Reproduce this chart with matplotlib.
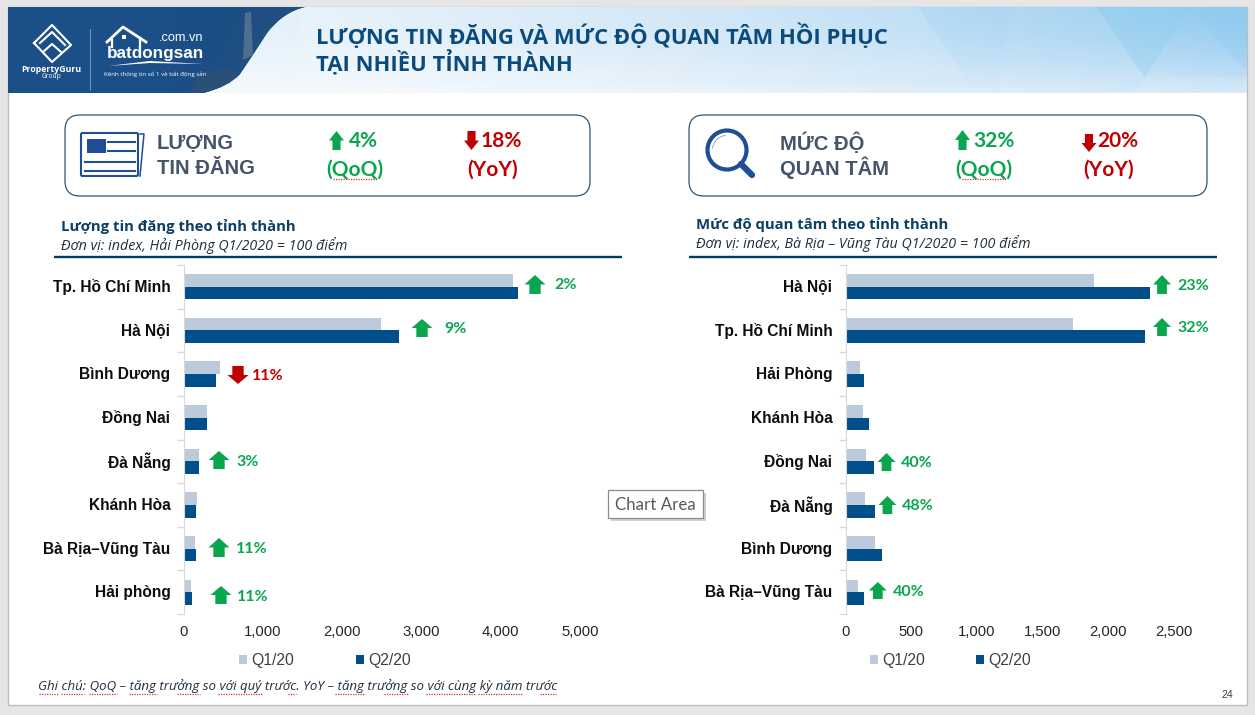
import numpy as np
import matplotlib
matplotlib.use("Agg")
import matplotlib.pyplot as plt
from matplotlib.patches import FancyBboxPatch, Polygon, PathPatch, Circle, Rectangle, Wedge
from matplotlib.path import Path
from matplotlib.colors import LinearSegmentedColormap
from matplotlib.transforms import ScaledTranslation

# ---------- data ----------
series_names = ["Q1/20", "Q2/20"]
left_categories = ["Tp. Hồ Chí Minh", "Hà Nội", "Bình Dương", "Đồng Nai", "Đà Nẵng", "Khánh Hòa", "Bà Rịa–Vũng Tàu", "Hải phòng"]
left_q1 = [4155, 2490, 460, 295, 195, 170, 145, 90]
left_q2 = [4215, 2715, 410, 295, 195, 155, 155, 105]
left_ticks = [0, 1000, 2000, 3000, 4000, 5000]

right_categories = ["Hà Nội", "Tp. Hồ Chí Minh", "Hải Phòng", "Khánh Hòa", "Đồng Nai", "Đà Nẵng", "Bình Dương", "Bà Rịa–Vũng Tàu"]
right_q1 = [1895, 1732, 108, 134, 156, 146, 223, 95]
right_q2 = [2320, 2283, 140, 178, 216, 223, 277, 140]
right_ticks = [0, 500, 1000, 1500, 2000, 2500]

title_lines = ["LƯỢNG TIN ĐĂNG VÀ MỨC ĐỘ QUAN TÂM HỒI PHỤC", "TẠI NHIỀU TỈNH THÀNH"]
note_text = "Ghi chú: QoQ – tăng trưởng so với quý trước. YoY – tăng trưởng so với cùng kỳ năm trước"

# callouts: (text, up?, arrow centre x, arrow top, arrow bottom, text left, text y)
left_callouts = [("2%", True, 535, 275, 294, 554.5, 285), ("9%", True, 422, 319, 337, 444, 329),
                 ("11%", False, 238, 366, 384, 252, 376), ("3%", True, 219, 451, 469, 236, 462),
                 ("11%", True, 219, 538, 557, 235.5, 549), ("11%", True, 221, 586, 604, 237, 597)]
right_callouts = [("23%", True, 1162, 275, 294, 1177, 286), ("32%", True, 1162, 318, 336, 1177, 328),
                  ("40%", True, 886.5, 453, 471, 900.8, 463), ("48%", True, 887.4, 496, 514, 901.6, 506),
                  ("40%", True, 877.8, 582, 599, 892.4, 592)]

GREEN, RED = "#0aa64f", "#c00000"
C_Q1, C_Q2 = "#bccbdb", "#004f8a"
NAVY = "#0b4a7d"
LABEL_FONT = ["Liberation Sans", "DejaVu Sans"]
HEAD_FONT = ["Open Sans", "DejaVu Sans"]
CAL_FONT = ["Lato", "DejaVu Sans"]

W, H = 1255, 715
fig = plt.figure(figsize=(W / 100, H / 100), dpi=100, facecolor="#e6e6e6")

# pixel overlay underneath the charts
bg = fig.add_axes([0, 0, 1, 1], zorder=0)
bg.set_xlim(0, W); bg.set_ylim(H, 0); bg.axis("off")
bg.add_patch(Rectangle((8, 7), 1239, 698, fc="white", ec="#bdbdbd", lw=1, zorder=0))

# header gradient
nx, ny = 320, 40
xx, yy = np.meshgrid(np.linspace(0, 1, nx), np.linspace(0, 1, ny))
tx = np.clip((xx - 0.2) / 0.8, 0, 1) ** 1.5
strength = (0.22 + 0.78 * tx) * (1 - 0.62 * yy ** 1.6)
cmap = LinearSegmentedColormap.from_list("hdr", ["#ffffff", "#d6e9f8", "#b4daf4", "#92cbef"])
bg.imshow(strength, extent=(8, 1247, 93, 7), cmap=cmap, vmin=0, vmax=1, aspect="auto", zorder=1, interpolation="bilinear")
for pts, c, a in [([(300, 7), (918, 7), (965, 77), (300, 77)], "white", .14),
                  ([(1097, 7), (1190, 7), (1145, 78)], "#8ccaf0", .28),
                  ([(1190, 7), (1247, 7), (1247, 70), (1228, 52)], "#8ccaf0", .25),
                  ([(1145, 78), (1247, 78), (1247, 93), (1135, 93)], "white", .10),
                  ([(1010, 7), (1097, 7), (1145, 78), (1060, 93), (1000, 93)], "white", .06)]:
    bg.add_patch(Polygon(pts, closed=True, fc=c, ec="none", alpha=a, zorder=2))

# dark left part of the header, clipped by a curve
verts = [(8, 7), (305, 7), (283, 12), (267, 33), (253, 55), (240, 74), (228, 87), (203, 93), (8, 93), (8, 7)]
codes = [Path.MOVETO, Path.LINETO, Path.CURVE3, Path.CURVE3, Path.CURVE3, Path.CURVE3, Path.CURVE3, Path.CURVE3, Path.LINETO, Path.CLOSEPOLY]
dark = PathPatch(Path(verts, codes), fc="#1c4f86", ec="none", zorder=3)
bg.add_patch(dark)
xd, yd = np.meshgrid(np.linspace(0, 1, 100), np.linspace(0, 1, 30))
dcmap = LinearSegmentedColormap.from_list("d", ["#1b4f88", "#1d4e84", "#24517f", "#3a5f84"])
im = bg.imshow(np.clip((xd - .55) / .45, 0, 1) * (0.55 + 0.45 * yd), extent=(8, 305, 93, 7), cmap=dcmap, vmin=0, vmax=1, aspect="auto", zorder=3.1)
im.set_clip_path(dark)
bg.add_patch(Polygon([(243, 60), (245, 13), (251, 12), (253, 55)], fc="#4f6f8e", ec="none", zorder=3.2))
p2 = bg.add_patch(Polygon([(190, 93), (200, 72), (230, 70), (240, 78), (215, 93)], fc="#2b5078", ec="none", zorder=3.2))
p2.set_clip_path(dark)

# PropertyGuru mark
bg.plot([34, 52, 71, 52, 34], [43, 25, 45, 62, 43], color="white", lw=1.5, zorder=4, solid_joinstyle="round")
bg.plot([40, 52, 65], [43, 32, 45], color="white", lw=1.5, zorder=4)
bg.plot([43, 52, 61], [52, 44, 52], color="white", lw=1.5, zorder=4)
bg.text(51, 69, "PropertyGuru", color="white", fontsize=6.3, fontweight="bold", ha="center", va="center", family=["Open Sans"], zorder=4)
bg.text(51, 76, "Group", color="white", fontsize=4.8, ha="center", va="center", family=["Open Sans"], zorder=4)
bg.plot([90, 90], [29, 90], color="#6f8fb3", lw=.8, zorder=4)
# batdongsan mark
bg.plot([107, 123, 146], [42, 27, 42], color="white", lw=2, zorder=4)
bg.plot([112, 112], [40, 47], color="white", lw=1.6, zorder=4)
bg.plot([140, 140], [38, 46], color="white", lw=1.6, zorder=4)
bg.add_patch(Rectangle((122, 35), 3.5, 4, fc="white", ec="none", zorder=4))
bg.text(203, 38, ".com.vn", color="white", fontsize=9.2, ha="right", va="center", family=["Liberation Sans"], zorder=4)
bg.text(107, 53.5, "batdongsan", color="white", fontsize=12.3, fontweight="bold", ha="left", va="center", family=["Liberation Sans"], zorder=4)
bg.add_patch(Polygon([(108, 66), (150, 61), (203, 64), (150, 63)], fc="white", ec="none", zorder=4))
bg.text(155, 74, "Kênh thông tin số 1 về bất động sản", color="white", fontsize=4.4, ha="center", va="center", family=["Open Sans"], zorder=4)

# title
for txt, y in zip(title_lines, [36, 64]):
    bg.text(316, y, txt, color=NAVY, fontsize=15.85, fontweight="bold", family=HEAD_FONT, ha="left", va="center", zorder=5)


def arrow(ax, cx, top, bottom, up, color, width=None, z=6):
    h = bottom - top
    w = width if width is not None else 22
    hh = h * .5
    s = w * .27
    if up:
        pts = [(cx, top), (cx + w / 2, top + hh), (cx + s, top + hh), (cx + s, bottom), (cx - s, bottom), (cx - s, top + hh), (cx - w / 2, top + hh)]
    else:
        pts = [(cx, bottom), (cx + w / 2, bottom - hh), (cx + s, bottom - hh), (cx + s, top), (cx - s, top), (cx - s, bottom - hh), (cx - w / 2, bottom - hh)]
    ax.add_patch(Polygon(pts, closed=True, fc=color, ec="none", zorder=z))


def squiggle(ax, x0, x1, y):
    ax.plot([x0, x1], [y, y], color="#d9302a", lw=.9, ls=(0, (1, 1)), zorder=6)


# KPI boxes
for x0, x1 in [(65, 590), (689, 1207)]:
    bg.add_patch(FancyBboxPatch((x0 + 15, 130), x1 - x0 - 30, 51, boxstyle="round,pad=15,rounding_size=15", fc="white", ec="#2f5480", lw=.9, zorder=3))
for x, lines in [(157, ["LƯỢNG", "TIN ĐĂNG"]), (780, ["MỨC ĐỘ", "QUAN TÂM"])]:
    for y, t in zip([143, 168], lines):
        bg.text(x, y, t, color="#44546a", fontsize=14.6, fontweight="bold", family=LABEL_FONT, ha="left", va="center", zorder=5)

kpis = [("4%", True, 336.5, 131, 150, 349, 355, "(QoQ)"), ("18%", False, 471.5, 131, 150, 481, 493, "(YoY)"),
        ("32%", True, 962.5, 130, 150, 973, 984, "(QoQ)"), ("20%", False, 1089, 134, 152, 1097, 1109, "(YoY)")]
for t, up, cx, a, b, tx_, cx2, sub in kpis:
    col = GREEN if up else RED
    arrow(bg, cx, a, b, up, col, width=15)
    bg.text(tx_, 141, t, color=col, fontsize=15, fontweight="bold", family=CAL_FONT, ha="left", va="center", zorder=6)
    bg.text(cx2, 170, sub, color=col, fontsize=15, fontweight="bold", family=CAL_FONT, ha="center", va="center", zorder=6)
squiggle(bg, 333, 377, 179)
squiggle(bg, 962, 1007, 179)

# newspaper icon
bg.add_patch(FancyBboxPatch((81, 133), 57, 43, boxstyle="round,pad=0,rounding_size=1.5", fc="white", ec="#1f4e96", lw=1.5, zorder=4))
bg.plot([140, 144, 140], [134, 134, 176], color="#1f4e96", lw=1.1, zorder=4)
bg.add_patch(Rectangle((87, 139), 18.5, 14, fc="#1f4e96", ec="none", zorder=5))
for y, x0, x1 in [(142, 108, 135), (151, 108, 135), (162, 85, 135), (171, 85, 135)]:
    bg.plot([x0, x1], [y, y], color="#1f4e96", lw=1.5, zorder=5)
# magnifier icon
bg.add_patch(Circle((727, 150), 19.5, fc="white", ec="#1f4e96", lw=3, zorder=4))
bg.plot([741, 752], [164, 175], color="#1f4e96", lw=4.5, solid_capstyle="round", zorder=4)
bg.add_patch(Wedge((727, 150), 15, 185, 265, width=.8, fc="#7f9cc9", ec="none", zorder=5))

# subtitles and rules
heads = [(61, 226, 246, "Lượng tin đăng theo tỉnh thành", "Đơn vị: index, Hải Phòng Q1/2020 = 100 điểm", 54, 622, 257),
         (696, 224, 244, "Mức độ quan tâm theo tỉnh thành", "Đơn vị: index, Bà Rịa – Vũng Tàu Q1/2020 = 100 điểm", 689, 1217, 256.5)]
for x, y1, y2, t1, t2, r0, r1, ry in heads:
    bg.text(x, y1, t1, color="#0b3f66", fontsize=10.75, fontweight="bold", family=HEAD_FONT, ha="left", va="center", zorder=5)
    bg.text(x, y2, t2, color="#1f2f3d", fontsize=10.25, fontstyle="italic", family=HEAD_FONT, ha="left", va="center", zorder=5)
    bg.plot([r0, r1], [ry, ry], color="#033c60", lw=1.7, zorder=5, solid_capstyle="butt")

# note, page number
bg.text(38, 686, note_text, color="#1f2f3d", fontsize=9.5, fontstyle="italic", family=HEAD_FONT, ha="left", va="center", zorder=5)
for a, b in [(39, 58), (61, 84), (89, 117), (129, 157), (177, 200), (218, 263), (288, 296), (335, 364), (384, 408), (426, 476), (478, 522), (540, 556)]:
    squiggle(bg, a, b, 693.5)
bg.text(1227, 695, "24", color="#404040", fontsize=7.5, family=LABEL_FONT, ha="center", va="center", zorder=5)


def chart(cats, q1, q2, ticks, xmax, x0, x1, legend_left, gap):
    ax = fig.add_axes([x0 / W, 1 - 614 / H, (x1 - x0) / W, (614 - 265) / H], zorder=2)
    ax.patch.set_alpha(0)
    y = np.arange(len(cats))
    ax.barh(y - .145, q1, height=.29, color=C_Q1, label=series_names[0])
    ax.barh(y + .145, q2, height=.29, color=C_Q2, label=series_names[1])
    ax.set_xlim(0, xmax)
    ax.set_ylim(len(cats) - .5, -.5)
    ax.set_yticks(y, cats, fontsize=11.2, fontweight="bold", family=LABEL_FONT, color="#0d0d0d")
    ax.set_yticks(np.arange(len(cats) + 1) - .5, minor=True)
    ax.tick_params(axis="y", which="major", length=0, pad=9.5)
    ax.tick_params(axis="y", which="minor", length=5, color="#d9d9d9", width=1)
    nudge = ScaledTranslation(0, 1 / 100, fig.dpi_scale_trans)
    for lab in ax.get_yticklabels():
        lab.set_transform(lab.get_transform() + nudge)
    ax.set_xticks(ticks, [f"{t:,}" for t in ticks], fontsize=10.7, family=LABEL_FONT, color="#262626")
    ax.tick_params(axis="x", length=0, pad=8)
    for s in ["top", "right", "bottom"]:
        ax.spines[s].set_visible(False)
    ax.spines["left"].set_color("#d9d9d9")
    leg = ax.legend(loc="center left", bbox_to_anchor=(legend_left, 661), bbox_transform=bg.transData, ncol=2,
                    frameon=False, borderpad=0, borderaxespad=0, handlelength=.5, handleheight=.5,
                    handletextpad=.25, columnspacing=gap, prop={"family": LABEL_FONT, "size": 11.3})
    for t in leg.get_texts():
        t.set_color("#404040")
    return ax


chart(left_categories, left_q1, left_q2, left_ticks, 5000, 183.5, 580, 239, 4.0)
chart(right_categories, right_q1, right_q2, right_ticks, 2500, 845.6, 1173.5, 870, 3.3)

# callouts over the charts
top = fig.add_axes([0, 0, 1, 1], zorder=3)
top.set_xlim(0, W); top.set_ylim(H, 0); top.axis("off"); top.patch.set_alpha(0)
for group, wd in [(left_callouts, 21), (right_callouts, 18)]:
    for t, up, cx, a, b, tl, ty in group:
        col = GREEN if up else RED
        arrow(top, cx, a, b, up, col, width=wd)
        top.text(tl, ty, t, color=col, fontsize=11.5, fontweight="bold", family=CAL_FONT, ha="left", va="center", zorder=7)

# Chart Area tooltip
top.add_patch(Rectangle((611, 493), 95, 28, fc="#bdbdbd", ec="none", alpha=.7, zorder=8))
top.add_patch(Rectangle((608, 490), 95, 28, fc="white", ec="#8c8c8c", lw=.9, zorder=9))
top.text(655.5, 504.5, "Chart Area", color="#595959", fontsize=12.2, family=CAL_FONT, ha="center", va="center", zorder=10)

fig.savefig("out.png", dpi=100, facecolor=fig.get_facecolor())
